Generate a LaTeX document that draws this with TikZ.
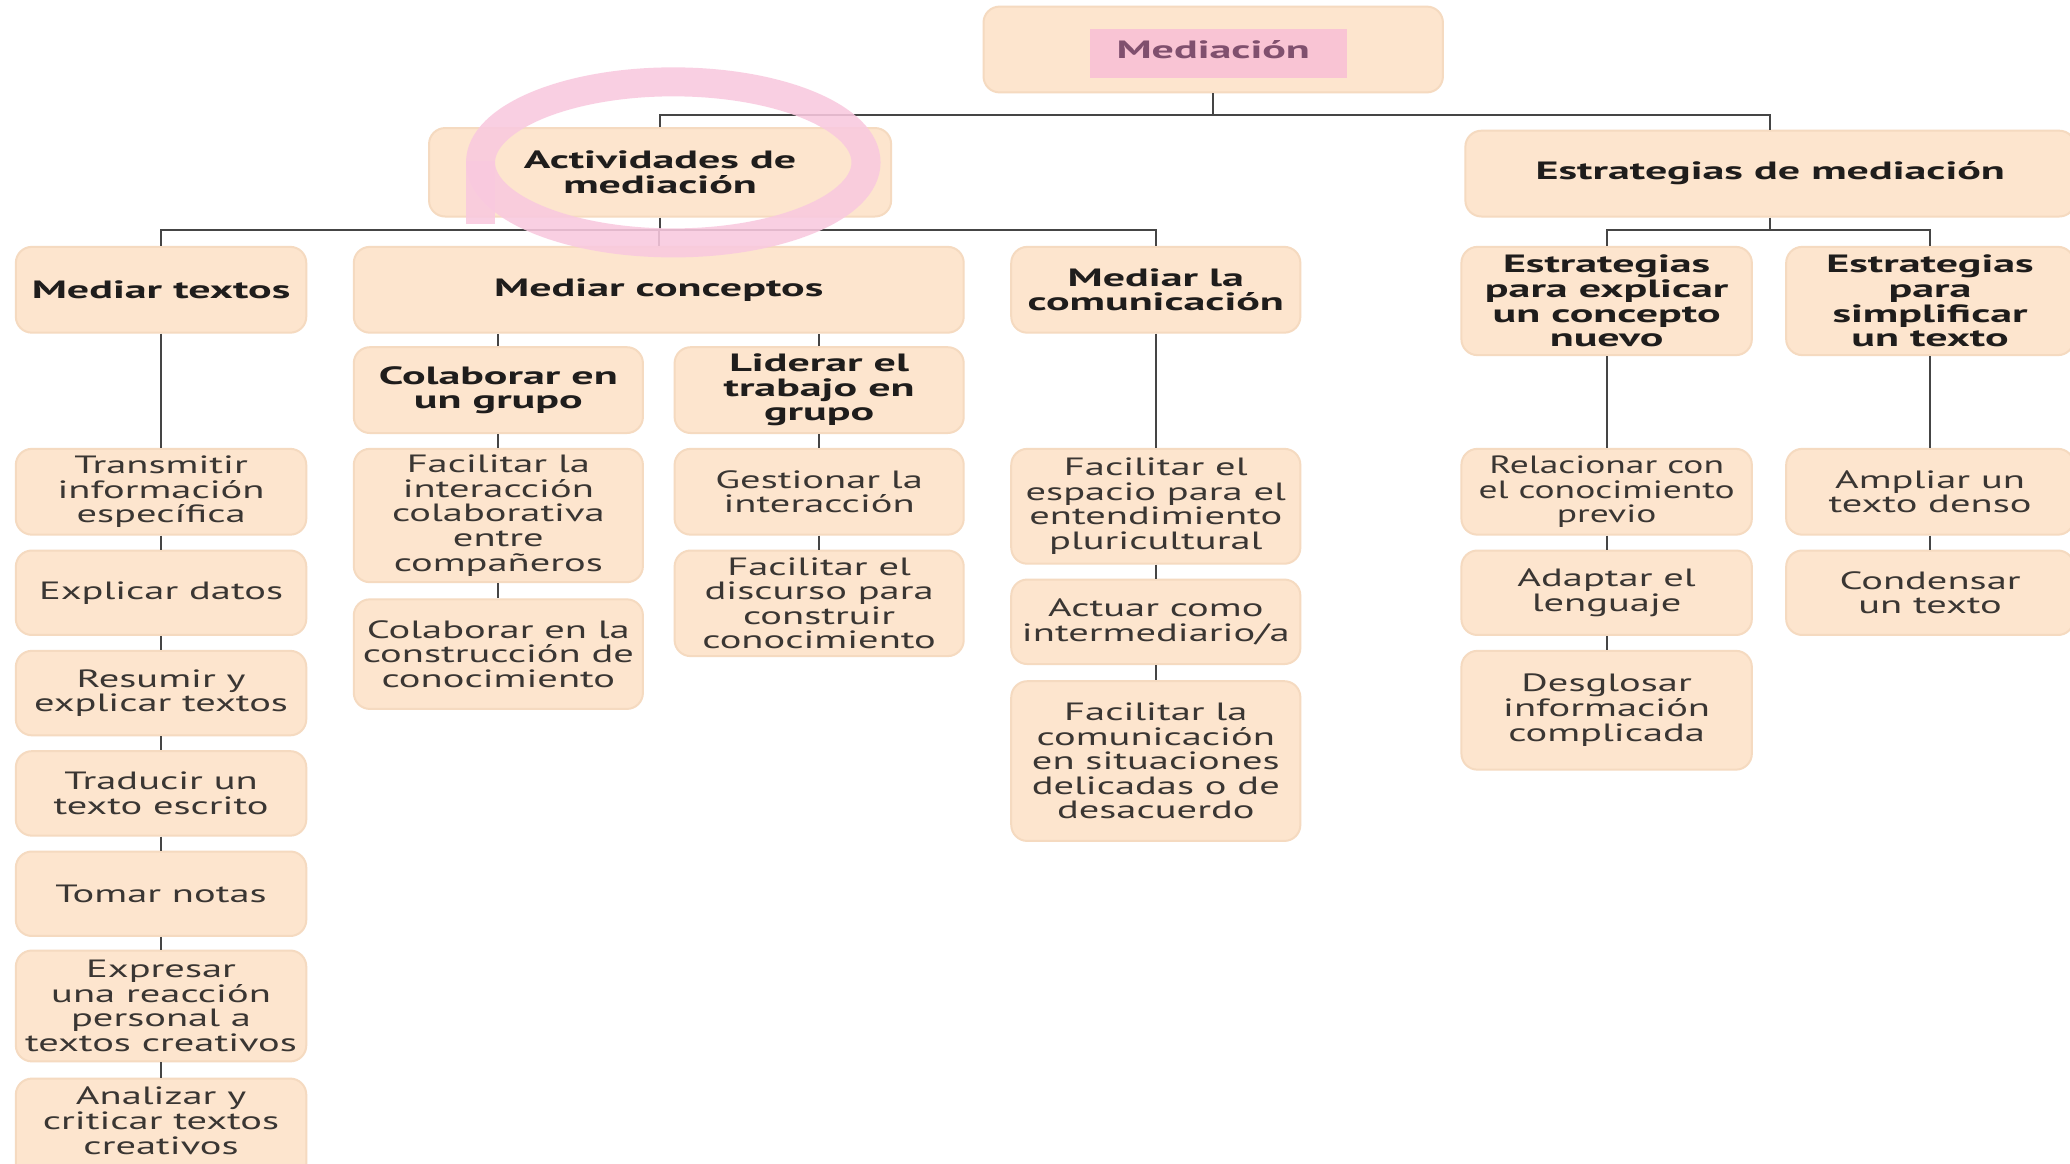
\documentclass[tikz,border=0pt]{standalone}
\usepackage{fontspec}
\setmainfont{PT Sans}[FakeStretch=1.62, BoldFeatures={FakeStretch=1.76}]
\newfontfamily\narrowfont{PT Sans}[FakeStretch=1.5]
\usetikzlibrary{calc}
\definecolor{boxfill}{HTML}{FDE5CE}
\definecolor{boxedge}{HTML}{F5DAC0}
\definecolor{linec}{HTML}{454545}
\definecolor{txt}{HTML}{3A3633}
\definecolor{hdr}{HTML}{1F1D1C}
\definecolor{pinkhl}{HTML}{F9C4D4}
\definecolor{pinkring}{HTML}{F9C9DF}
\definecolor{medtxt}{HTML}{80506E}
\tikzset{
  box/.style={fill=boxfill, draw=boxedge, line width=1pt, rounded corners=8pt,
    inner sep=0pt, align=center, text=txt, font=\fontsize{12.5}{12.3}\selectfont},
  hbox/.style={box, text=hdr, font=\fontsize{12.5}{12.3}\selectfont\bfseries},
  conn/.style={draw=linec, line width=1.1pt},
  ring/.style={draw=pinkring, line width=14.5pt, opacity=0.88},
}
\newcommand\bx[7][]{\node[box,minimum width={(#5-#3)*0.66pt},minimum height={(#6-#4)*0.66pt},#1] (#2) at ({(#3+#5)/2},{(#4+#6)/2}) {#7};}
\begin{document}
\begin{tikzpicture}[x=0.66pt,y=-0.66pt]
\useasboundingbox (0,0) rectangle (1568,881);
\clip (0,0) rectangle (1568,881);
\fill[white] (0,0) rectangle (1568,881);

% top level
\bx[hbox]{med}{745}{5}{1093}{70}{}
\fill[pinkhl] (826,22) rectangle (1020,59);
\node[text=medtxt, font=\fontsize{12.5}{12.3}\selectfont\bfseries, inner sep=0pt] (medlabel) at (919,38) {Mediación};
\bx[hbox]{act}{325}{97}{675}{164}{Actividades de\\mediación}
\bx[hbox]{est}{1110}{99}{1572}{164}{Estrategias de mediación}

% column 1
\bx[hbox]{mtex}{12}{187}{232}{252}{Mediar textos}
\bx{t1}{12}{340}{232}{405}{Transmitir\\información\\específica}
\bx{t2}{12}{417}{232}{481}{Explicar datos}
\bx{t3}{12}{493}{232}{557}{Resumir y\\explicar textos}
\bx{t4}{12}{569}{232}{633}{Traducir un\\texto escrito}
\bx{t5}{12}{645}{232}{709}{Tomar notas}
\bx{t6}{12}{720}{232}{804}{Expresar\\una reacción\\personal a\\textos creativos}
\bx{t7}{12}{817}{232}{905}{Analizar y\\criticar textos\\creativos\\\mbox{\strut}}

% column 2
\bx[hbox]{mcon}{268}{187}{730}{252}{Mediar conceptos}
\bx[hbox]{c1}{268}{263}{487}{328}{Colaborar en\\un grupo}
\bx[hbox]{c2}{511}{263}{730}{328}{Liderar el\\trabajo en\\grupo}
\bx{c11}{268}{340}{487}{441}{Facilitar la\\interacción\\colaborativa\\entre\\compañeros}
\bx{c12}{268}{454}{487}{537}{Colaborar en la\\construcción de\\conocimiento}
\bx{c21}{511}{340}{730}{405}{Gestionar la\\interacción}
\bx{c22}{511}{417}{730}{497}{Facilitar el\\discurso para\\construir\\conocimiento}

% column 3
\bx[hbox]{mcom}{766}{187}{985}{252}{Mediar la\\comunicación}
\bx{m1}{766}{340}{985}{427}{Facilitar el\\espacio para el\\entendimiento\\pluricultural}
\bx{m2}{766}{439}{985}{503}{Actuar como\\intermediario/a}
\bx{m3}{766}{516}{985}{637}{Facilitar la\\comunicación\\en situaciones\\delicadas o de\\desacuerdo}

% column 4
\bx[hbox]{e1}{1107}{187}{1327}{269}{Estrategias\\para explicar\\un concepto\\nuevo}
\bx[font=\fontsize{12.5}{12.3}\narrowfont]{e11}{1107}{340}{1327}{405}{Relacionar con\\el conocimiento\\previo}
\bx{e12}{1107}{417}{1327}{481}{Adaptar el\\lenguaje}
\bx{e13}{1107}{493}{1327}{583}{Desglosar\\información\\complicada}

% column 5
\bx[hbox]{e2}{1353}{187}{1571}{269}{Estrategias\\para\\simplificar\\un texto}
\bx{e21}{1353}{340}{1571}{405}{Ampliar un\\texto denso}
\bx{e22}{1353}{417}{1571}{481}{Condensar\\un texto}

% connectors: top
\coordinate (j1) at (919,87);
\coordinate (j2) at (0,174);
\draw[conn] (med.south) -- (med.south |- j1);
\draw[conn] (act.north) -- (act.north |- j1) -- (est.north |- j1) -- (est.north);
% level 2 left
\draw[conn] (act.south) -- (act.south |- j2);
\draw[conn] (mtex.north) -- (mtex.north |- j2) -- (mcom.north |- j2) -- (mcom.north);
\draw[conn] (mcon.north) -- (mcon.north |- j2);
% level 2 right
\draw[conn] (est.south) -- (est.south |- j2);
\draw[conn] (e1.north) -- (e1.north |- j2) -- (e2.north |- j2) -- (e2.north);

% column 1 chain
\draw[conn] (mtex.south) -- (t1.north);
\foreach \a/\b in {t1/t2,t2/t3,t3/t4,t4/t5,t5/t6,t6/t7}{\draw[conn] (\a.south) -- (\b.north);}
% column 2
\draw[conn] (c1.north) -- (c1.north |- mcon.south);
\draw[conn] (c2.north) -- (c2.north |- mcon.south);
\foreach \a/\b in {c1/c11,c11/c12,c2/c21,c21/c22}{\draw[conn] (\a.south) -- (\b.north);}
% column 3
\foreach \a/\b in {mcom/m1,m1/m2,m2/m3}{\draw[conn] (\a.south) -- (\b.north);}
% column 4, 5
\foreach \a/\b in {e1/e11,e11/e12,e12/e13,e2/e21,e21/e22}{\draw[conn] (\a.south) -- (\b.north);}

% pink hand-drawn ring
\draw[ring] (510,123) ellipse [x radius=146, y radius=61];
\draw[ring, line cap=butt] (364,122) -- (364,170);
\end{tikzpicture}
\end{document}
